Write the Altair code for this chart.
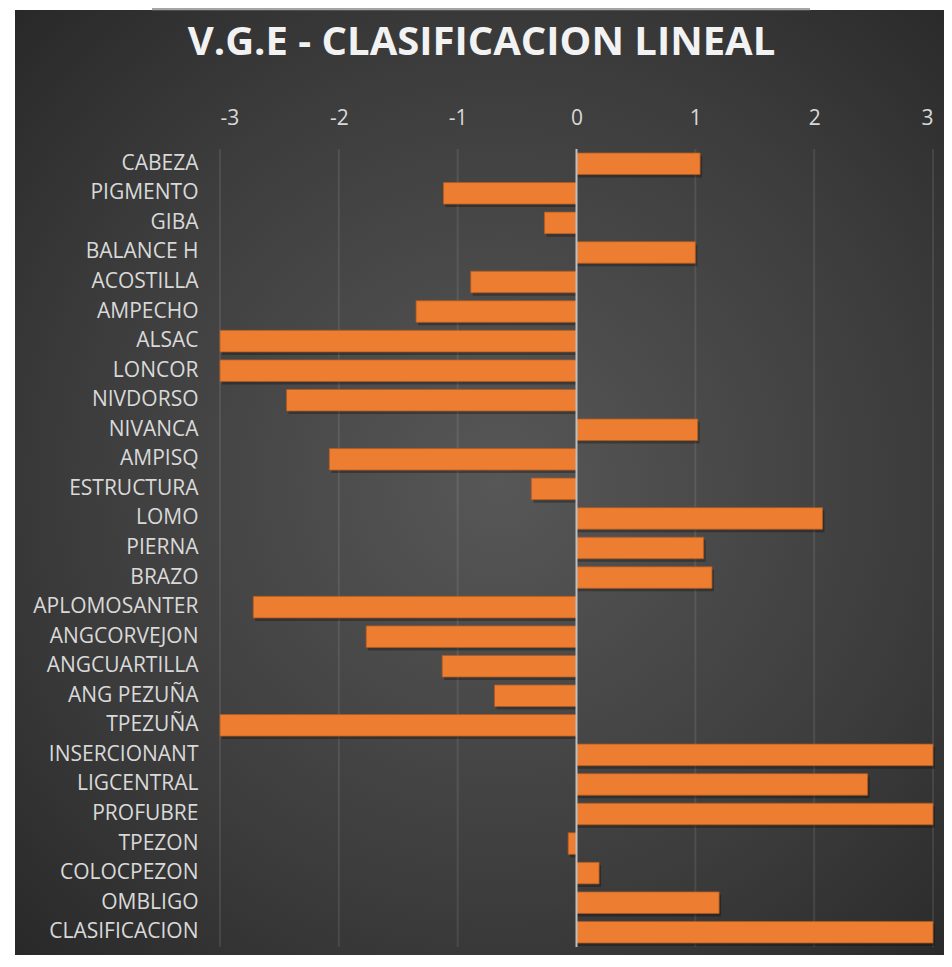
import altair as alt
import pandas as pd

categories = ["CABEZA", "PIGMENTO", "GIBA", "BALANCE H", "ACOSTILLA", "AMPECHO",
              "ALSAC", "LONCOR", "NIVDORSO", "NIVANCA", "AMPISQ", "ESTRUCTURA",
              "LOMO", "PIERNA", "BRAZO", "APLOMOSANTER", "ANGCORVEJON",
              "ANGCUARTILLA", "ANG PEZUÑA", "TPEZUÑA", "INSERCIONANT",
              "LIGCENTRAL", "PROFUBRE", "TPEZON", "COLOCPEZON", "OMBLIGO",
              "CLASIFICACION"]
values = [1.04, -1.12, -0.27, 1.00, -0.89, -1.35,
          -3.0, -3.0, -2.44, 1.02, -2.08, -0.38,
          2.07, 1.07, 1.14, -2.72, -1.77,
          -1.13, -0.69, -3.0, 3.0,
          2.45, 3.0, -0.07, 0.19, 1.20,
          3.0]
grid_ticks = [-3, -2, -1, 1, 2, 3]
axis_ticks = [-3, -2, -1, 0, 1, 2, 3]
title_text = "V.G.E - CLASIFICACION LINEAL"

W, H = 713, 798
PL, PT, PR, PB = 212, 141, 11, 8

df = pd.DataFrame({"cat": categories, "val": values})
grid_df = pd.DataFrame({"t": grid_ticks})

FONT = "Open Sans"
LABEL_COLOR = "#d9d9d9"

x_scale = alt.Scale(domain=[-3, 3], nice=False, zero=False)
y_scale = alt.Scale(paddingInner=0.27, paddingOuter=0.135)

bg = alt.Chart(alt.Data(values=[{"k": 1}])).mark_rect(
    fill=alt.RadialGradient(
        gradient="radial",
        stops=[alt.GradientStop(color="#575757", offset=0),
               alt.GradientStop(color="#3c3c3c", offset=0.6),
               alt.GradientStop(color="#262626", offset=1)],
        x1=0.52, y1=0.5, r1=0, x2=0.52, y2=0.5, r2=0.75),
).encode(x=alt.value(-(PL - 7)), x2=alt.value(W + PR),
         y=alt.value(-(PT - 2)), y2=alt.value(H + PB))

topline = alt.Chart(alt.Data(values=[{"k": 1}])).mark_rule(
    color="#a5a5a5", strokeWidth=2.5
).encode(x=alt.value(152 - 8 - PL), x2=alt.value(810 - 8 - PL),
         y=alt.value(-(PT - 1)))

grid = alt.Chart(grid_df).mark_rule(color="#ffffff", opacity=0.09, strokeWidth=2).encode(
    x=alt.X("t:Q", scale=x_scale)
)

base = alt.Chart(df)

shadow = base.mark_bar(color="#000000", opacity=0.28, xOffset=2, yOffset=3).encode(
    x=alt.X("val:Q", scale=x_scale),
    x2=alt.datum(0),
    y=alt.Y("cat:N", sort=None, scale=y_scale),
)

bars = base.mark_bar(color="#ED7D31", stroke="#b35a1e", strokeWidth=0.8).encode(
    x=alt.X("val:Q", scale=x_scale,
            axis=alt.Axis(orient="top", values=axis_ticks, grid=False, domain=False,
                          ticks=False, labelExpr="'' + datum.value",
                          labelFont=FONT, labelFontSize=21, labelColor=LABEL_COLOR,
                          labelPadding=21, title=None, zindex=2)),
    x2=alt.datum(0),
    y=alt.Y("cat:N", sort=None, scale=y_scale,
            axis=alt.Axis(grid=False, domain=False, ticks=False,
                          labelFont=FONT, labelFontSize=21, labelColor=LABEL_COLOR,
                          labelPadding=22, title=None, zindex=2)),
    tooltip=["cat", "val"],
)

zero = alt.Chart(alt.Data(values=[{"z": 0}])).mark_rule(color="#bfbfbf", strokeWidth=2).encode(
    x=alt.X("z:Q", scale=x_scale)
)

chart = alt.layer(bg, topline, grid, shadow, bars, zero).properties(
    width=W, height=H,
    title=alt.Title(title_text, font=FONT, fontSize=40, fontWeight="bold",
                    color="#f2f2f2", anchor="middle", frame="group", dx=-95, offset=-55),
    padding={"left": PL, "top": PT, "right": PR, "bottom": PB},
    autosize=alt.AutoSizeParams(type="none"),
    background="#ffffff",
).configure_view(stroke=None)

chart.save("out.html", embed_options={"renderer": "svg", "actions": False})
